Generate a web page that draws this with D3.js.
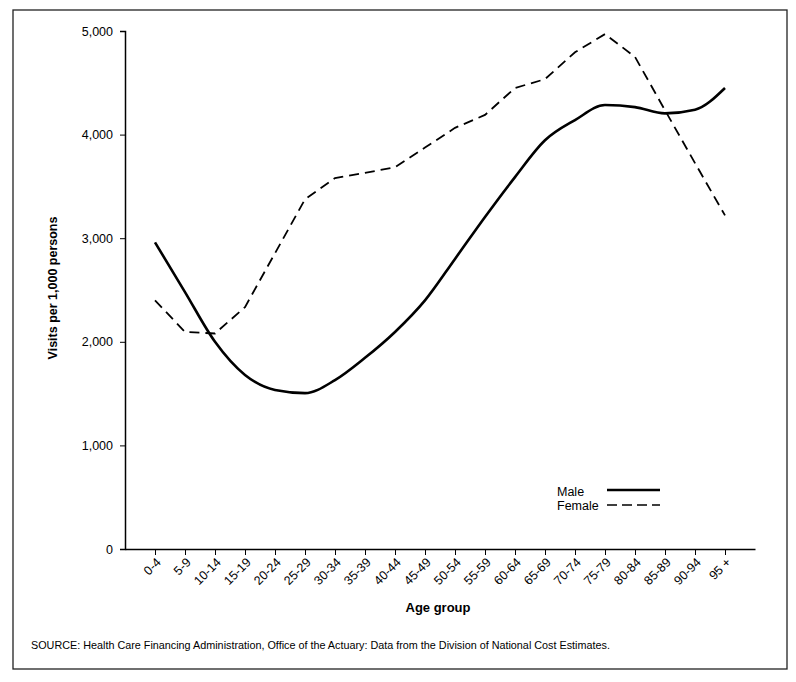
<!DOCTYPE html>
<html>
<head>
<meta charset="utf-8">
<script src="https://cdn.jsdelivr.net/npm/d3@7"></script>
<style>
  body { margin: 0; background: #fff; }
  svg { font-family: "Liberation Sans", Arial, Helvetica, sans-serif; }
</style>
</head>
<body>
<div id="chart"></div>
<script>
'use strict'

const ageGroups = ['0-4', '5-9', '10-14', '15-19', '20-24', '25-29', '30-34', '35-39', '40-44', '45-49',
  '50-54', '55-59', '60-64', '65-69', '70-74', '75-79', '80-84', '85-89', '90-94', '95 +']
const male = [2960, 2480, 2000, 1680, 1535, 1505, 1630, 1845, 2095, 2400,
  2800, 3205, 3590, 3945, 4140, 4285, 4265, 4205, 4240, 4450]
const female = [2400, 2095, 2080, 2335, 2855, 3375, 3580, 3630, 3685, 3875,
  4065, 4190, 4450, 4535, 4795, 4970, 4750, 4235, 3725, 3220]
const yTicks = [0, 1000, 2000, 3000, 4000, 5000]

const width = 796,
  height = 682

const svg = d3.select('#chart').append('svg')
  .attr('width', width)
  .attr('height', height)

// outer frame
svg.append('rect')
  .attr('x', 13).attr('y', 10)
  .attr('width', 774).attr('height', 659)
  .attr('fill', 'none')
  .attr('stroke', '#222')
  .attr('stroke-width', 1.3)

const x = d3.scalePoint()
  .domain(ageGroups)
  .range([125, 755])
  .padding(1)

const y = d3.scaleLinear()
  .domain([0, 5000])
  .range([549, 31])

// y axis
const yAxis = svg.append('g')
  .attr('transform', 'translate(125,0)')
  .call(d3.axisLeft(y).tickValues(yTicks).tickSize(5).tickPadding(7).tickFormat(d3.format(',')))
yAxis.select('.domain').attr('stroke-width', 1.5)
yAxis.selectAll('text').attr('font-size', 12.5).attr('fill', '#000')

// x axis
const xAxis = svg.append('g')
  .attr('transform', 'translate(0,549)')
  .call(d3.axisBottom(x).tickSize(6).tickSizeOuter(0))
xAxis.select('.domain').attr('stroke-width', 1.5)
xAxis.selectAll('.tick text')
  .attr('font-size', 12.5)
  .attr('fill', '#000')
  .attr('text-anchor', 'end')
  .attr('x', 0)
  .attr('y', 0)
  .attr('dy', '0.35em')
  .attr('transform', 'translate(3,11) rotate(-45)')

// axis titles
svg.append('text')
  .attr('transform', 'translate(57,288) rotate(-90)')
  .attr('text-anchor', 'middle')
  .attr('font-size', 12.5)
  .attr('font-weight', 'bold')
  .text('Visits per 1,000 persons')

svg.append('text')
  .attr('x', 438).attr('y', 612)
  .attr('text-anchor', 'middle')
  .attr('font-size', 13)
  .attr('font-weight', 'bold')
  .text('Age group')

svg.append('text')
  .attr('x', 31).attr('y', 649)
  .attr('font-size', 10.8)
  .text('SOURCE: Health Care Financing Administration, Office of the Actuary: Data from the Division of National Cost Estimates.')

// lines
const maleLine = d3.line()
  .x((d, i) => x(ageGroups[i]))
  .y(d => y(d))
  .curve(d3.curveMonotoneX)

const femaleLine = d3.line()
  .x((d, i) => x(ageGroups[i]))
  .y(d => y(d))

svg.append('path')
  .datum(female)
  .attr('d', femaleLine)
  .attr('fill', 'none')
  .attr('stroke', '#000')
  .attr('stroke-width', 1.8)
  .attr('stroke-dasharray', '10,6')

svg.append('path')
  .datum(male)
  .attr('d', maleLine)
  .attr('fill', 'none')
  .attr('stroke', '#000')
  .attr('stroke-width', 2.6)

// legend
const legend = svg.append('g').attr('transform', 'translate(557,0)')
legend.append('text').attr('x', 0).attr('y', 496).attr('font-size', 12.5).text('Male')
legend.append('text').attr('x', 0).attr('y', 510).attr('font-size', 12.5).text('Female')
legend.append('line')
  .attr('x1', 50).attr('x2', 103).attr('y1', 490).attr('y2', 490)
  .attr('stroke', '#000').attr('stroke-width', 2.4)
legend.append('line')
  .attr('x1', 50).attr('x2', 103).attr('y1', 505).attr('y2', 505)
  .attr('stroke', '#000').attr('stroke-width', 1.6)
  .attr('stroke-dasharray', '10,5')
</script>
</body>
</html>
